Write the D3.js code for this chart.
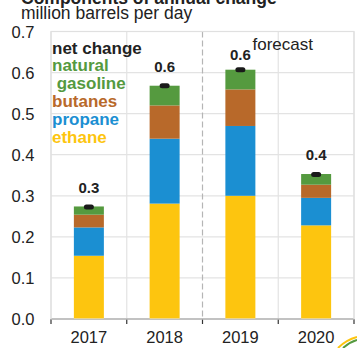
<!DOCTYPE html>
<html>
<head>
<meta charset="utf-8">
<script src="https://cdn.jsdelivr.net/npm/d3@7"></script>
<style>
  body { margin: 0; background: #fff; }
  svg { display: block; font-family: Arial, "Liberation Sans", sans-serif; }
</style>
</head>
<body>
<div id="chart-area"></div>
<script>
// data
let years = ["2017", "2018", "2019", "2020"];
let ethane = [0.154, 0.281, 0.300, 0.228];
let propane = [0.069, 0.158, 0.170, 0.067];
let butanes = [0.031, 0.081, 0.089, 0.032];
let gasoline = [0.020, 0.048, 0.048, 0.026];
let netChange = [0.273, 0.568, 0.607, 0.352];
let netLabels = ["0.3", "0.6", "0.6", "0.4"];
let yTicks = [0, 0.1, 0.2, 0.3, 0.4, 0.5, 0.6, 0.7];
let seriesNames = ["ethane", "propane", "butanes", "gasoline"];
let colors = { ethane: "#fdc50f", propane: "#1b8fd2", butanes: "#b8692a", gasoline: "#559a3f" };

let rows = years.map(function(d, i) {
    return { year: d, ethane: ethane[i], propane: propane[i], butanes: butanes[i], gasoline: gasoline[i] };
});

let W = 357, H = 348;
let margin = { left: 51, right: 3, top: 31.5, bottom: 29 };
let width = W - margin.left - margin.right,
    height = H - margin.top - margin.bottom;

let svg = d3.select("#chart-area")
    .append("svg")
    .attr("width", W)
    .attr("height", H);

// Titles (top one is cut off in the original)
svg.append("text")
    .attr("x", 21)
    .attr("y", 4)
    .attr("font-size", "17.5px")
    .attr("font-weight", "bold")
    .attr("fill", "#222")
    .text("Components of annual change");

svg.append("text")
    .attr("x", 21)
    .attr("y", 18.5)
    .attr("font-size", "17.5px")
    .attr("fill", "#222")
    .text("million barrels per day");

let g = svg.append("g")
    .attr("transform", "translate(" + margin.left + "," + margin.top + ")");

// X Scale
let x = d3.scaleBand()
    .domain(years)
    .range([0, width]);

// Y Scale
let y = d3.scaleLinear()
    .domain([0, 0.7])
    .range([height, 0]);

// grid
g.selectAll(".hgrid")
    .data(yTicks)
    .enter().append("line")
    .attr("x1", 0).attr("x2", width)
    .attr("y1", function(d){ return y(d); })
    .attr("y2", function(d){ return y(d); })
    .attr("stroke", "#e3e3e3")
    .attr("stroke-width", 1.2);

let bounds = years.map(function(d){ return x(d); }).concat([width]);
g.selectAll(".vgrid")
    .data(bounds.filter(function(d, i){ return i !== 2; }))
    .enter().append("line")
    .attr("x1", function(d){ return d; })
    .attr("x2", function(d){ return d; })
    .attr("y1", 0).attr("y2", height)
    .attr("stroke", "#e3e3e3")
    .attr("stroke-width", 1.2);

// forecast divider
g.append("line")
    .attr("x1", x("2019")).attr("x2", x("2019"))
    .attr("y1", 0).attr("y2", height)
    .attr("stroke", "#b5b5b5")
    .attr("stroke-width", 1.2)
    .attr("stroke-dasharray", "6,3");

g.append("text")
    .attr("x", x("2019") + 50)
    .attr("y", 18.5)
    .attr("font-size", "17px")
    .attr("fill", "#222")
    .text("forecast");

// Y Axis
let yAxisCall = d3.axisLeft(y)
    .tickValues(yTicks)
    .tickSize(0)
    .tickPadding(16)
    .tickFormat(d3.format(".1f"));
let yAxis = g.append("g").call(yAxisCall);
yAxis.select(".domain").remove();
yAxis.selectAll("text")
    .attr("font-size", "16.5px")
    .attr("fill", "#222")
    .attr("dy", "0.35em")
    .attr("text-anchor", "start")
    .attr("x", -39.5);

// X Axis
let xAxisCall = d3.axisBottom(x).tickSize(0).tickPadding(12);
let xAxis = g.append("g")
    .attr("transform", "translate(0," + height + ")")
    .call(xAxisCall);
xAxis.select(".domain").remove();
xAxis.selectAll("text")
    .attr("font-size", "16.5px")
    .attr("fill", "#222")
    .attr("dy", "0.71em");

g.append("line")
    .attr("x1", 0).attr("x2", width)
    .attr("y1", height).attr("y2", height)
    .attr("stroke", "#777")
    .attr("stroke-width", 1.6);
g.selectAll(".xtick")
    .data(bounds)
    .enter().append("line")
    .attr("x1", function(d){ return d; })
    .attr("x2", function(d){ return d; })
    .attr("y1", height).attr("y2", height + 5)
    .attr("stroke", "#333")
    .attr("stroke-width", 1.2);

// Bars
let stack = d3.stack().keys(seriesNames)(rows);
let barW = 30;
g.selectAll(".layer")
    .data(stack)
    .enter().append("g")
    .attr("fill", function(d){ return colors[d.key]; })
    .selectAll("rect")
    .data(function(d){ return d; })
    .enter().append("rect")
    .attr("x", function(d){ return x(d.data.year) + x.bandwidth() / 2 - barW / 2; })
    .attr("width", barW)
    .attr("y", function(d){ return y(d[1]); })
    .attr("height", function(d){ return y(d[0]) - y(d[1]); });

// net change markers
g.selectAll(".net")
    .data(netChange)
    .enter().append("line")
    .attr("x1", function(d, i){ return x(years[i]) + x.bandwidth() / 2 - 2.5; })
    .attr("x2", function(d, i){ return x(years[i]) + x.bandwidth() / 2 + 2.5; })
    .attr("y1", function(d){ return y(d); })
    .attr("y2", function(d){ return y(d); })
    .attr("stroke", "#1a1a1a")
    .attr("stroke-width", 5)
    .attr("stroke-linecap", "round");

g.selectAll(".netlabel")
    .data(netChange)
    .enter().append("text")
    .attr("x", function(d, i){ return x(years[i]) + x.bandwidth() / 2; })
    .attr("y", function(d){ return Math.max(y(d) - 14, 28.5); })
    .attr("text-anchor", "middle")
    .attr("font-size", "15px")
    .attr("font-weight", "bold")
    .attr("fill", "#222")
    .text(function(d, i){ return netLabels[i]; });

// Legend
let legendItems = [
    { text: "net change", color: "#222" },
    { text: "natural", color: colors.gasoline },
    { text: "\u00a0gasoline", color: colors.gasoline },
    { text: "butanes", color: colors.butanes },
    { text: "propane", color: colors.propane },
    { text: "ethane", color: colors.ethane }
];
g.selectAll(".legend")
    .data(legendItems)
    .enter().append("text")
    .attr("x", 1)
    .attr("y", function(d, i){ return 22 + i * 17.8; })
    .attr("font-size", "17px")
    .attr("font-weight", "bold")
    .attr("fill", function(d){ return d.color; })
    .text(function(d){ return d.text; });

// plot border
g.append("rect")
    .attr("width", width).attr("height", height)
    .attr("fill", "none")
    .attr("stroke", "#e0e0e0")
    .attr("stroke-width", 1.2);

// logo corner swoosh
svg.append("path")
    .attr("d", "M338,348 Q346,340 357,337")
    .attr("fill", "none")
    .attr("stroke", "#fdc50f")
    .attr("stroke-width", 2);
svg.append("path")
    .attr("d", "M343,348 Q350,342 357,340")
    .attr("fill", "none")
    .attr("stroke", "#559a3f")
    .attr("stroke-width", 2);
</script>
</body>
</html>
